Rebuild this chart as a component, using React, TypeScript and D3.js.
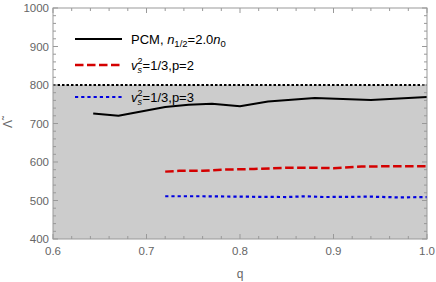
import React, { useEffect, useRef } from 'react';
import * as d3 from 'd3';

// PCM, n_{1/2} = 2.0 n_0
const pcmQ = [0.643, 0.67, 0.7, 0.72, 0.745, 0.77, 0.8, 0.83, 0.88, 0.94, 1.0];
const pcmLambda = [726, 720, 734, 743, 749, 751, 745, 757, 766, 761, 769];

// v_s^2 = 1/3, p = 2
const p2Q = [0.72, 0.735, 0.76, 0.78, 0.815, 0.85, 0.88, 0.9, 0.93, 0.96, 1.0];
const p2Lambda = [575, 577, 577, 580, 582, 585, 585, 584, 588, 589, 589];

// v_s^2 = 1/3, p = 3
const p3Q = [0.72, 0.76, 0.8, 0.85, 0.87, 0.89, 0.94, 0.97, 1.0];
const p3Lambda = [511, 511, 510, 509, 511, 509, 510, 508, 509];

const limitLambda = 800;
const xTicks = [0.6, 0.7, 0.8, 0.9, 1.0];
const yTicks = [400, 500, 600, 700, 800, 900, 1000];

const App = () => {
  const ref = useRef<SVGSVGElement>(null);

  useEffect(() => {
    const svg = d3.select(ref.current);
    svg.selectAll('*').remove();

    const left = 53;
    const right = 427;
    const top = 8;
    const bottom = 239;

    const x = d3.scaleLinear().domain([0.6, 1.0]).range([left, right]);
    const y = d3.scaleLinear().domain([400, 1000]).range([bottom, top]);

    // plot background + excluded region
    svg.append('rect')
      .attr('x', left).attr('y', top)
      .attr('width', right - left).attr('height', bottom - top)
      .attr('fill', '#fff');
    svg.append('rect')
      .attr('x', left).attr('y', y(limitLambda))
      .attr('width', right - left).attr('height', y(400) - y(limitLambda))
      .attr('fill', '#cccccc');

    const line = d3.line<[number, number]>()
      .x((d) => x(d[0]))
      .y((d) => y(d[1]));

    const zip = (a: number[], b: number[]) => a.map((v, i) => [v, b[i]] as [number, number]);

    // limit line
    svg.append('path')
      .datum(zip([0.6, 1.0], [limitLambda, limitLambda]))
      .attr('d', line)
      .attr('fill', 'none')
      .attr('stroke', '#000')
      .attr('stroke-width', 2)
      .attr('stroke-dasharray', '2.5,2');

    svg.append('path')
      .datum(zip(pcmQ, pcmLambda))
      .attr('d', line)
      .attr('fill', 'none')
      .attr('stroke', '#000')
      .attr('stroke-width', 2)
      .attr('stroke-linejoin', 'round');

    svg.append('path')
      .datum(zip(p2Q, p2Lambda))
      .attr('d', line)
      .attr('fill', 'none')
      .attr('stroke', '#d40000')
      .attr('stroke-width', 2.5)
      .attr('stroke-dasharray', '8.5,3.5');

    svg.append('path')
      .datum(zip(p3Q, p3Lambda))
      .attr('d', line)
      .attr('fill', 'none')
      .attr('stroke', '#0000e0')
      .attr('stroke-width', 2.2)
      .attr('stroke-dasharray', '3.2,3');

    // frame
    const frameColor = '#999';
    svg.append('rect')
      .attr('x', left).attr('y', top)
      .attr('width', right - left).attr('height', bottom - top)
      .attr('fill', 'none')
      .attr('stroke', frameColor)
      .attr('stroke-width', 1);

    // ticks (inward, all four sides)
    const xMinor = d3.range(0, 21).map((i) => 0.6 + i * 0.02);
    const yMinor = d3.range(0, 31).map((i) => 400 + i * 20);
    const isMajorX = (v: number) => Math.abs(v * 10 - Math.round(v * 10)) < 1e-6;
    const isMajorY = (v: number) => v % 100 === 0;
    const ticks = svg.append('g').attr('stroke', frameColor).attr('stroke-width', 1);
    xMinor.forEach((v) => {
      const len = isMajorX(v) ? 5 : 3;
      ticks.append('line').attr('x1', x(v)).attr('x2', x(v)).attr('y1', bottom).attr('y2', bottom - len);
      ticks.append('line').attr('x1', x(v)).attr('x2', x(v)).attr('y1', top).attr('y2', top + len);
    });
    yMinor.forEach((v) => {
      const len = isMajorY(v) ? 5 : 3;
      ticks.append('line').attr('x1', left).attr('x2', left + len).attr('y1', y(v)).attr('y2', y(v));
      ticks.append('line').attr('x1', right).attr('x2', right - len).attr('y1', y(v)).attr('y2', y(v));
    });

    const labelColor = '#666';
    const font = 'Liberation Sans, Arial, sans-serif';

    svg.append('g').selectAll('text')
      .data(xTicks)
      .join('text')
      .attr('x', (d) => x(d))
      .attr('y', 255)
      .attr('text-anchor', 'middle')
      .attr('font-family', font)
      .attr('font-size', 11.5)
      .attr('fill', labelColor)
      .text((d) => d.toFixed(1));

    svg.append('g').selectAll('text')
      .data(yTicks)
      .join('text')
      .attr('x', left - 4)
      .attr('y', (d) => y(d) + 4)
      .attr('text-anchor', 'end')
      .attr('font-family', font)
      .attr('font-size', 11.5)
      .attr('fill', labelColor)
      .text((d) => String(d));

    svg.append('text')
      .attr('x', 240).attr('y', 278)
      .attr('text-anchor', 'middle')
      .attr('font-family', font)
      .attr('font-size', 12)
      .attr('fill', labelColor)
      .text('q');

    svg.append('text')
      .attr('transform', 'translate(12,124) rotate(-90)')
      .attr('text-anchor', 'middle')
      .attr('font-family', font)
      .attr('font-size', 12)
      .attr('fill', labelColor)
      .text('\u039B\u0303');

    // legend
    const legend = svg.append('g').attr('font-family', font).attr('font-size', 13).attr('fill', '#000');
    const lx1 = 75;
    const lx2 = 122;
    const tx = 131;

    legend.append('line').attr('x1', lx1).attr('x2', lx2).attr('y1', 39).attr('y2', 39)
      .attr('stroke', '#000').attr('stroke-width', 2);
    const t1 = legend.append('text').attr('x', tx).attr('y', 43.5);
    t1.append('tspan').text('PCM, ');
    t1.append('tspan').attr('font-style', 'italic').text('n');
    t1.append('tspan').attr('font-size', 9.5).attr('dy', 3.5).text('1/2');
    t1.append('tspan').attr('dy', -3.5).text('=2.0');
    t1.append('tspan').attr('font-style', 'italic').text('n');
    t1.append('tspan').attr('font-size', 9.5).attr('dy', 3.5).text('0');

    const vsLegend = (ly: number, color: string, dash: string, width: number, label: string) => {
      legend.append('line').attr('x1', lx1).attr('x2', lx2).attr('y1', ly).attr('y2', ly)
        .attr('stroke', color).attr('stroke-width', width).attr('stroke-dasharray', dash);
      const t = legend.append('text').attr('x', tx).attr('y', ly + 4.5);
      t.append('tspan').attr('font-style', 'italic').text('v');
      t.append('tspan').attr('font-size', 9).attr('dy', -5.5).text('2');
      t.append('tspan').attr('font-size', 9).attr('font-style', 'italic')
        .attr('dx', -5).attr('dy', 9).text('s');
      t.append('tspan').attr('dx', 0.6).attr('dy', -3.5).text(label);
    };
    vsLegend(65, '#d40000', '8.5,3.5', 2.5, '=1/3,p=2');
    vsLegend(97, '#0000e0', '3.2,3', 2.2, '=1/3,p=3');
  }, []);

  return (
    <svg
      ref={ref}
      width={436}
      height={282}
      style={{ position: 'absolute', left: 0, top: 0, background: '#fff' }}
    />
  );
};

export default App;
